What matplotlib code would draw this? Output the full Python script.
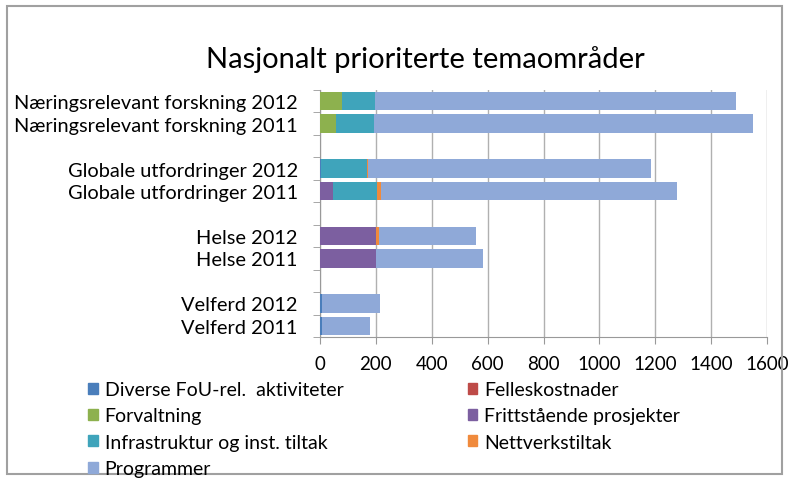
import numpy as np
import matplotlib
matplotlib.use('Agg')
import matplotlib.pyplot as plt
from matplotlib.patches import Rectangle, Patch

plt.rcParams['font.family'] = ['Lato', 'DejaVu Sans']

# bars from top to bottom
bar_labels = ['Næringsrelevant forskning 2012', 'Næringsrelevant forskning 2011',
              'Globale utfordringer 2012', 'Globale utfordringer 2011',
              'Helse 2012', 'Helse 2011',
              'Velferd 2012', 'Velferd 2011']

series_names = ['Diverse FoU-rel.  aktiviteter', 'Felleskostnader', 'Forvaltning',
                'Frittstående prosjekter', 'Infrastruktur og inst. tiltak',
                'Nettverkstiltak', 'Programmer']

diverse = [0, 0, 3, 0, 0, 0, 8, 8]
felles = [0, 0, 0, 0, 0, 0, 0, 0]
forvaltning = [77, 57, 0, 0, 0, 0, 0, 0]
fritt = [0, 0, 0, 45, 200, 200, 0, 0]
infra = [121, 136, 164, 158, 0, 0, 0, 0]
nettverk = [0, 0, 4, 14, 12, 2, 0, 0]
programmer = [1290, 1356, 1015, 1060, 345, 381, 208, 171]

colors = ['#4a7ebb', '#be4b48', '#8db14e', '#7c5fa0', '#3fa4bb', '#f08a3c', '#8fa9d8']

series = [diverse, felles, forvaltning, fritt, infra, nettverk, programmer]

# positions with an empty slot between each pair
ypos = []
for g in range(4):
    ypos += [g * 3, g * 3 + 1]
ypos = np.array(ypos)

fig = plt.figure(figsize=(7.9, 4.81), dpi=100)
ax = fig.add_axes([320 / 790, 1 - 338 / 481, 447 / 790, 247 / 481])

left = np.zeros(len(bar_labels))
for vals, col in zip(series, colors):
    ax.barh(ypos, vals, left=left, height=0.82, color=col, zorder=3)
    left += np.array(vals)

ax.set_ylim(10.5, -0.5)
ax.set_xlim(0, 1600)
ax.set_xticks(np.arange(0, 1601, 200))
ax.set_yticks(np.arange(-0.5, 11, 1), minor=True)
ax.set_yticks(ypos)
ax.set_yticklabels(bar_labels, fontsize=14.4)
ax.tick_params(axis='y', which='major', length=0, pad=16)
ax.tick_params(axis='y', which='minor', length=5, color='#999999')
ax.tick_params(axis='x', length=5, color='#999999', labelsize=13.5, pad=8)
ax.grid(axis='x', color='#b0b0b0', linewidth=1, zorder=0)
for s in ['top', 'right']:
    ax.spines[s].set_visible(False)
for s in ['left', 'bottom']:
    ax.spines[s].set_color('#999999')

fig.text(425 / 790, 1 - 60 / 481, 'Nasjonalt prioriterte temaområder',
         ha='center', va='center', fontsize=21)

handles = [Patch(color=c) for c in colors]
order = [0, 2, 4, 6, 1, 3, 5]
leg = fig.legend([handles[i] for i in order], [series_names[i] for i in order],
                 ncol=2, loc='upper left', bbox_to_anchor=(88 / 790, 1 - 382 / 481),
                 frameon=False, fontsize=14, handlelength=0.5, handleheight=0.5,
                 handletextpad=0.35, columnspacing=6.4, labelspacing=0.48,
                 borderaxespad=0, borderpad=0)

fig.patches.append(Rectangle((7 / 790, 6 / 481), 775 / 790, 468 / 481,
                             transform=fig.transFigure, fill=False,
                             edgecolor='#a0a0a0', linewidth=1.5))

fig.savefig('out.png', dpi=100)
